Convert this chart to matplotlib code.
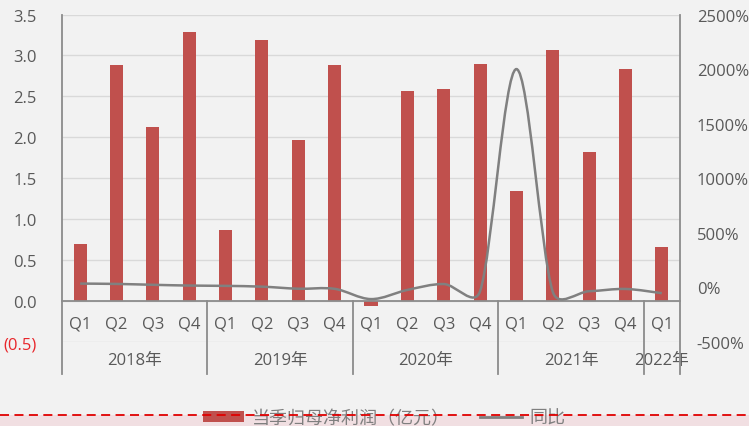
"""Quarterly net profit attributable to parent (bars) with YoY growth (smoothed line)."""
import numpy as np
import matplotlib
matplotlib.use("Agg")
import matplotlib.pyplot as plt
from matplotlib.path import Path
from matplotlib.patches import PathPatch, Rectangle, Patch
from matplotlib.lines import Line2D
import matplotlib.transforms as mtransforms

# ---- data ----
years = ["2018年", "2019年", "2020年", "2021年", "2022年"]
quarters_per_year = [4, 4, 4, 4, 1]
quarters = ["Q1", "Q2", "Q3", "Q4"] * 4 + ["Q1"]
profit = [0.70, 2.88, 2.13, 3.29,
          0.87, 3.19, 1.97, 2.88,
          -0.06, 2.57, 2.59, 2.90,
          1.35, 3.07, 1.82, 2.83,
          0.66]
yoy = [35, 32, 24, 17,
       14, 7, -12, -13,
       -107, -23, 31, -35,
       2000, -40, -35, -14,
       -53]
left_ticks = [-0.5, 0.0, 0.5, 1.0, 1.5, 2.0, 2.5, 3.0, 3.5]
left_labels = ["(0.5)", "0.0", "0.5", "1.0", "1.5", "2.0", "2.5", "3.0", "3.5"]
right_ticks = [-500, 0, 500, 1000, 1500, 2000, 2500]
right_labels = ["-500%", "0%", "500%", "1000%", "1500%", "2000%", "2500%"]

BAR = "#C0504D"
LINE = "#808080"
TXT = "#595959"
BG = "#F2F2F2"
GRID = "#D9D9D9"
AXC = "#8C8C8C"
LAT = ["Open Sans", "Noto Sans CJK SC", "DejaVu Sans"]
CJK = ["Noto Sans CJK SC", "DejaVu Sans"]

W, H = 749, 427
fig = plt.figure(figsize=(W / 100, H / 100), dpi=100, facecolor=BG)
L, R, T, B = 62, 680, 15.5, 343
ax = fig.add_axes([L / W, 1 - B / H, (R - L) / W, (B - T) / H])
ax.set_facecolor(BG)
ax2 = ax.twinx()

x = np.arange(len(profit))
ax.bar(x, profit, width=0.36, color=BAR, zorder=3)
ax.set_xlim(-0.5, len(profit) - 0.5)
ax.set_ylim(-0.5, 3.5)
ax2.set_ylim(-500, 2500)

# gridlines
for v in left_ticks:
    ax.axhline(v, color=GRID, lw=1, zorder=1)
ax.axhline(0, color=AXC, lw=1.3, zorder=4)

# smoothed yoy line: Excel-like Bezier, built in pixel space so the
# control arms can be limited to half a segment (less overshoot)
disp = ax2.transData.transform(np.column_stack([x, yoy]).astype(float))
n = len(disp)
verts = [tuple(disp[0])]
codes = [Path.MOVETO]
for i in range(n - 1):
    p0 = disp[max(i - 1, 0)]
    p1 = disp[i]
    p2 = disp[i + 1]
    p3 = disp[min(i + 2, n - 1)]
    d12 = np.hypot(*(p2 - p1))
    d02 = np.hypot(*(p2 - p0))
    d13 = np.hypot(*(p3 - p1))
    f1 = 1 / 6 if d02 / 6 < d12 / 2 else d12 / (2 * d02)
    f2 = 1 / 6 if d13 / 6 < d12 / 2 else d12 / (2 * d13)
    c1 = p1 + (p2 - p0) * f1
    c2 = p2 - (p3 - p1) * f2
    verts += [tuple(c1), tuple(c2), tuple(p2)]
    codes += [Path.CURVE4] * 3
ax2.add_patch(PathPatch(Path(verts, codes), fill=False, edgecolor=LINE,
                        lw=1.8, zorder=5, transform=None))

# ticks
ax.set_xticks([])
ax.set_yticks(left_ticks)
ax.set_yticklabels(left_labels, family=LAT, fontsize=12, color=TXT)
ax.get_yticklabels()[0].set_color("#E8262B")
ax.tick_params(axis="y", length=0, pad=18)
ax2.set_yticks(right_ticks)
ax2.set_yticklabels(right_labels, family=LAT, fontsize=12, color=TXT)
ax2.tick_params(axis="y", length=0, pad=12)
for a in (ax, ax2):
    for s in a.spines.values():
        s.set_visible(False)

# category axis: quarter and year labels with separators
blend = mtransforms.blended_transform_factory(ax.transData, ax.transAxes)
y0 = 0.5 / 4
ybot = (B - 375) / (B - T)
for i, q in enumerate(quarters):
    ax.text(i, -0.27, q, ha="center", va="center", family=LAT,
            fontsize=12, color=TXT, zorder=6)
edges = np.concatenate([[0], np.cumsum(quarters_per_year)]) - 0.5
for e in edges:
    ax.plot([e, e], [y0, ybot], transform=blend, color=AXC, lw=1.3,
            clip_on=False, zorder=6)
ax.plot([-0.5, -0.5], [1, y0], transform=blend, color=AXC, lw=1.3,
        clip_on=False, zorder=6)
ax.plot([edges[-1], edges[-1]], [1, y0], transform=blend, color=AXC, lw=1.3,
        clip_on=False, zorder=6)
for k, yr in enumerate(years):
    cx = (edges[k] + edges[k + 1]) / 2
    ax.text(cx, (B - 361) / (B - T), yr, transform=blend, ha="center",
            va="center", family=LAT, fontsize=12, color=TXT)

# bottom band with dashed red rule
fig.add_artist(Rectangle((0, 0), 1, 1 - 416 / H, transform=fig.transFigure,
                         facecolor="#F1DFE2", edgecolor="none", zorder=0.5))
handles = [Patch(facecolor=BAR, edgecolor="none"),
           Line2D([], [], color=LINE, lw=2)]
leg = fig.legend(handles, ["当季归母净利润（亿元）", "同比"], loc="center",
                 bbox_to_anchor=(384 / W, 1 - 419 / H), ncol=2, frameon=False,
                 prop={"family": CJK, "size": 13}, labelcolor="#7F7F7F",
                 handlelength=2.3, handleheight=0.6, handletextpad=0.4,
                 columnspacing=1.7)
leg.set_zorder(2)
fig.add_artist(Line2D([0, 1], [1 - 416 / H] * 2, transform=fig.transFigure,
                      color="#E00000", lw=1.3, dashes=(5, 3), zorder=10))

fig.savefig("out.png", dpi=100, facecolor=BG)
